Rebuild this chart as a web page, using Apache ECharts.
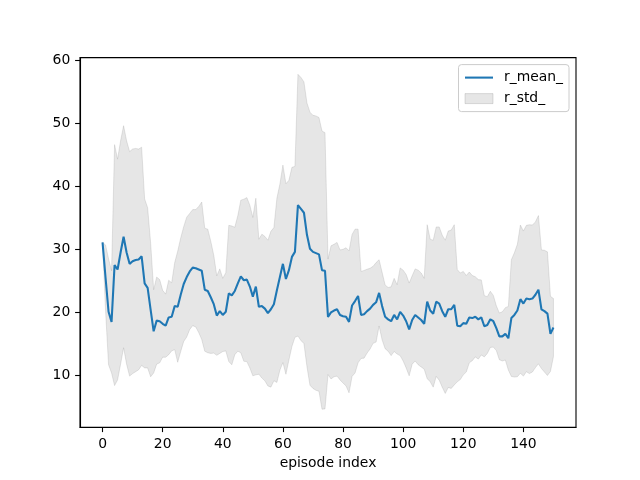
<!DOCTYPE html>
<html><head><meta charset="utf-8">
<script src="https://cdn.jsdelivr.net/npm/echarts@6/dist/echarts.min.js"></script>
<style>html,body{margin:0;padding:0;background:#fff}#c{width:640px;height:480px}</style>
</head><body><div id="c"></div>
<script>
// r_mean_ per episode index (0..150)
const meanVals = [
31.1,25.5,20.1,18.5,27.5,26.8,29.5,32.0,29.5,27.7,
28.1,28.3,28.4,28.9,24.6,23.9,20.4,17.0,18.7,18.6,
18.2,17.9,19.2,19.3,21.0,20.9,22.8,24.5,25.6,26.5,
27.1,27.0,26.8,26.6,23.6,23.4,22.4,21.3,19.5,20.2,
19.6,20.1,23.0,22.7,23.4,24.6,25.7,25.1,25.2,24.1,
22.5,24.1,20.9,21.0,20.6,19.9,20.5,21.3,23.5,25.6,
27.7,25.3,26.7,28.8,29.6,37.0,36.4,35.8,32.3,30.1,
29.6,29.4,29.2,26.7,26.6,19.3,20.0,20.3,20.5,19.6,
19.4,19.3,18.5,21.1,21.8,22.6,19.6,19.7,20.2,20.6,
21.2,21.6,23.1,21.0,19.3,18.9,18.6,19.6,18.9,20.1,
19.5,18.6,17.3,18.8,19.6,19.2,18.8,18.2,21.7,20.3,
19.8,21.7,21.4,20.2,19.3,20.5,20.5,21.2,17.9,17.8,
18.3,18.2,19.2,19.1,19.3,18.9,19.2,17.8,18.0,18.9,
18.6,17.5,16.2,16.2,16.6,15.9,19.1,19.6,20.3,22.1,
21.4,22.2,22.1,22.2,22.8,23.6,20.5,20.2,19.8,16.6,
17.6
];
// r_std_ per episode index (0..150)
const stdVals = [
0,5.2,8.4,8.1,19.1,17.5,17.7,17.6,17.7,17.8,
17.8,17.7,17.5,17.3,13.4,12.7,10.6,6.6,6.9,6.6,
5.3,5.0,5.9,5.4,6.9,8.8,9.0,9.1,9.5,9.2,
9.2,9.3,10.0,10.9,9.75,9.8,8.9,7.75,6.3,6.7,
5.8,6.2,10.8,11.0,10.1,10.75,12.1,12.85,13.0,12.9,
12.55,14.0,10.7,11.4,11.45,11.55,12.35,12.15,14.6,14.75,
15.65,15.1,14.25,14.2,13.55,20.75,20.85,20.75,20.9,21.65,
21.65,21.75,21.7,22.05,21.9,9.15,10.55,10.5,10.6,10.3,
10.6,10.95,11.25,11.25,11.4,10.6,6.9,6.95,6.65,6.4,
6.1,6.3,5.25,5.35,5.05,5.05,5.45,5.8,5.5,6.95,
7.2,7.4,7.35,7.0,7.3,7.5,7.45,7.2,12.2,11.3,
11.65,11.85,12.15,12.05,12.15,12.4,12.55,12.7,8.9,8.45,
8.2,7.65,7.2,6.75,6.35,6.3,5.95,4.85,4.5,4.45,
4.1,3.55,3.7,3.9,4.15,5.05,9.25,9.85,10.5,11.75,
11.5,11.6,11.8,11.65,11.55,11.75,9.4,9.65,9.8,5.95,
4.6
];
const xTicks = [0,20,40,60,80,100,120,140];
const yTicks = [10,20,30,40,50,60];
const xLabel = 'episode index';
const seriesNames = ['r_mean_','r_std_'];

const FONT = 'DejaVu Sans';
const FS = 13.9;
const chart = echarts.init(document.getElementById('c'), null, {renderer:'canvas'});
const meanData = meanVals.map((v,i)=>[i,v]);

chart.setOption({
  animation:false,
  backgroundColor:'#fff',
  grid:{left:80, top:57.6, width:496, height:369.6, show:true, borderColor:'#000', borderWidth:1.1, backgroundColor:'transparent'},
  xAxis:{
    type:'value', min:-7.5, max:157.5,
    name:xLabel, nameLocation:'middle', nameGap:29,
    nameTextStyle:{fontFamily:FONT, fontSize:FS, color:'#000'},
    axisLine:{show:true, onZero:false, lineStyle:{color:'#000', width:1.1}},
    axisTick:{show:true, length:4.9, customValues:xTicks, lineStyle:{color:'#000', width:1.1}},
    axisLabel:{customValues:xTicks, margin:9.7, fontFamily:FONT, fontSize:FS, color:'#000'},
    splitLine:{show:false}
  },
  yAxis:{
    type:'value', min:1.8, max:60.4,
    axisLine:{show:true, onZero:false, lineStyle:{color:'#000', width:1.1}},
    axisTick:{show:true, length:4.9, customValues:yTicks, lineStyle:{color:'#000', width:1.1}},
    axisLabel:{customValues:yTicks, margin:9.7, fontFamily:FONT, fontSize:FS, color:'#000'},
    splitLine:{show:false}
  },
  legend:{
    orient:'vertical', right:71, top:64.6,
    padding:[6,6,6,6], itemGap:7, itemWidth:28, itemHeight:10,
    backgroundColor:'rgba(255,255,255,0.8)', borderColor:'#cccccc', borderWidth:1, borderRadius:3,
    textStyle:{fontFamily:FONT, fontSize:FS, color:'#000', padding:[0,0,0,6]},
    selectedMode:false,
    data:[
      {name:seriesNames[0], icon:'path://M0,0L28,0L28,2.08L0,2.08Z', itemStyle:{color:'#1f77b4', borderWidth:0}},
      {name:seriesNames[1], icon:'rect', itemStyle:{color:'rgba(128,128,128,0.2)', borderColor:'rgba(128,128,128,0.25)', borderWidth:1}}
    ]
  },
  series:[
    {
      name:seriesNames[0], type:'line', data:meanData, showSymbol:false, symbol:'none',
      lineStyle:{color:'#1f77b4', width:2.08}, itemStyle:{color:'#1f77b4'}, z:4
    },
    {
      name:seriesNames[1], type:'custom', z:2,
      itemStyle:{color:'rgba(128,128,128,0.2)'},
      data:[[0, meanVals[0]]],
      renderItem:function(params, api){
        const pts = [];
        for (let i=0;i<meanVals.length;i++) pts.push(api.coord([i, meanVals[i]+stdVals[i]]));
        for (let i=meanVals.length-1;i>=0;i--) pts.push(api.coord([i, meanVals[i]-stdVals[i]]));
        return {type:'polygon', shape:{points:pts},
          style:{fill:'rgba(128,128,128,0.2)', stroke:'rgba(128,128,128,0.2)', lineWidth:1}};
      }
    }
  ]
});
</script></body></html>
